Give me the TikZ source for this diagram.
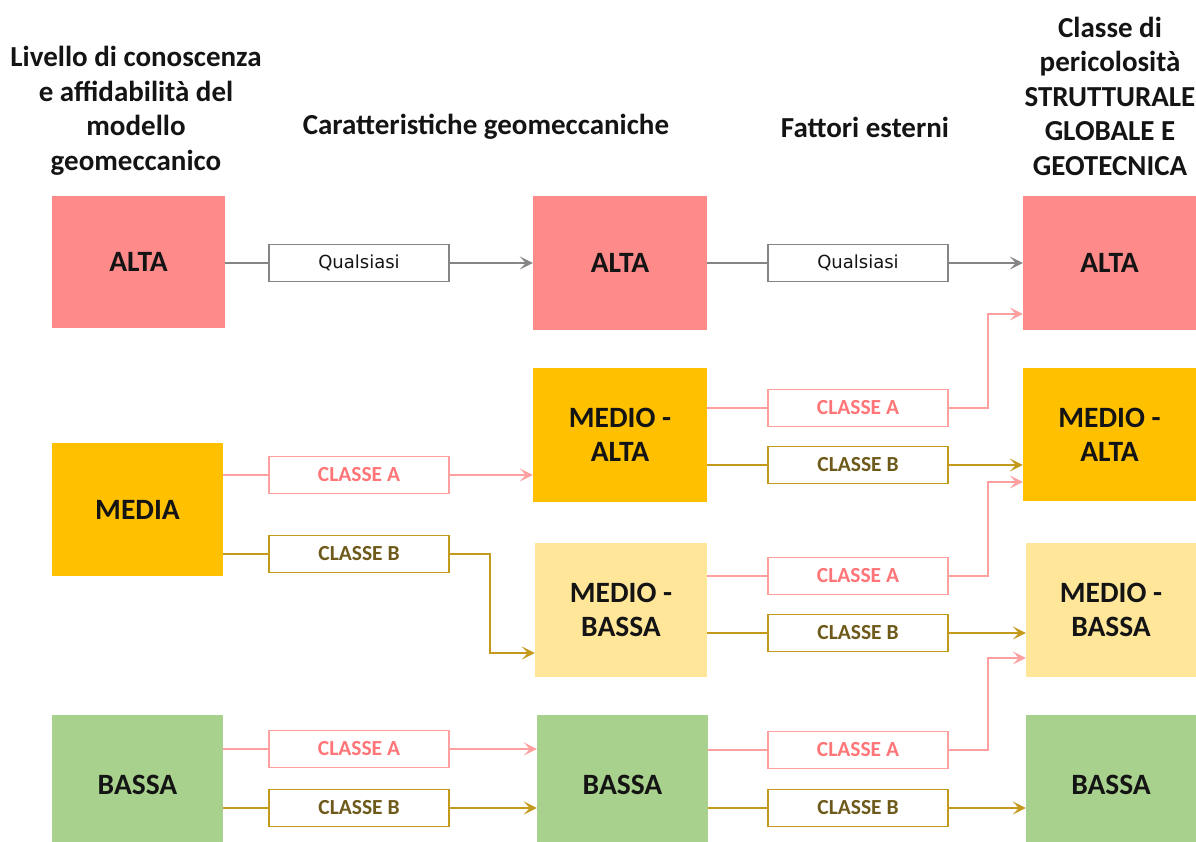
\documentclass[tikz,border=0pt]{standalone}
\usepackage{fontspec}
\setmainfont{Carlito}
\newfontfamily\dejavu{DejaVu Sans}
\usetikzlibrary{arrows.meta}
\definecolor{cAlta}{HTML}{FF8A8A}
\definecolor{cMedia}{HTML}{FFC000}
\definecolor{cMB}{HTML}{FFE699}
\definecolor{cBassa}{HTML}{A9D18E}
\definecolor{cGray}{HTML}{858585}
\definecolor{cPink}{HTML}{FFA0A0}
\definecolor{cPinkTxt}{HTML}{FF7578}
\definecolor{cGold}{HTML}{C49A1C}
\definecolor{cGoldTxt}{HTML}{6E5A1A}
\definecolor{cTxt}{HTML}{141414}
\tikzset{
  x=1pt, y=-1pt,
  heading/.style={font=\fontsize{29}{34.5}\selectfont\bfseries, text=cTxt, align=center, inner sep=0pt},
  bigbox/.style={minimum height=134pt, inner sep=0pt, align=center, text=cTxt,
     font=\fontsize{29.5}{34}\selectfont\bfseries},
  lbl/.style={draw, line width=1.6pt, fill=white, minimum width=180pt, minimum height=37pt, inner sep=0pt},
  qbox/.style={lbl, draw=cGray, text=cTxt, font=\dejavu\fontsize{18}{20}\selectfont},
  abox/.style={lbl, draw=cPink, text=cPinkTxt, font=\fontsize{21.5}{24}\selectfont\bfseries},
  bbox/.style={lbl, draw=cGold, text=cGoldTxt, font=\fontsize{21.5}{24}\selectfont\bfseries},
  arr/.style={-{Stealth[length=13pt,width=13pt,inset=6pt]}},
  gline/.style={draw=cGray, line width=2.2pt},
  pline/.style={draw=cPink, line width=2.2pt},
  oline/.style={draw=cGold, line width=2.2pt},
}
\begin{document}
\begin{tikzpicture}
\useasboundingbox (0,0) rectangle (1196,841);
% headings
\node[heading] (h1) at (136,111) {Livello di conoscenza\\e affidabilità del\\modello\\geomeccanico};
\node[heading] (h2) at (486,127) {Caratteristiche geomeccaniche};
\node[heading] (h3) at (865,127) {Fattori esterni};
\node[heading] (h4) at (1110,96) {Classe di\\pericolosità\\STRUTTURALE\\GLOBALE E\\GEOTECNICA};
% left column
\node[bigbox, fill=cAlta, minimum width=173pt, minimum height=132pt] (L1) at (138.5,262) {ALTA};
\node[bigbox, fill=cMedia, minimum width=171pt, minimum height=133pt] (L2) at (137.5,509.5) {MEDIA};
\node[bigbox, fill=cBassa, minimum width=171pt, minimum height=140pt] (L3) at (137.5,785) {BASSA};
% middle column
\node[bigbox, fill=cAlta, minimum width=174pt] (M1) at (620,263) {ALTA};
\node[bigbox, fill=cMedia, minimum width=174pt] (M2) at (620,435) {MEDIO -\\ALTA};
\node[bigbox, fill=cMB, minimum width=172pt] (M3) at (621,610) {MEDIO -\\BASSA};
\node[bigbox, fill=cBassa, minimum width=171pt, minimum height=140pt] (M4) at (622.5,785) {BASSA};
% right column
\node[bigbox, fill=cAlta, minimum width=173pt] (R1) at (1109.5,263) {ALTA};
\node[bigbox, fill=cMedia, minimum width=173pt, minimum height=133pt] (R2) at (1109.5,434.5) {MEDIO -\\ALTA};
\node[bigbox, fill=cMB, minimum width=170pt] (R3) at (1111,610) {MEDIO -\\BASSA};
\node[bigbox, fill=cBassa, minimum width=170pt, minimum height=140pt] (R4) at (1111,785) {BASSA};
% label boxes, left
\node[qbox] (q1) at (359,263) {Qualsiasi};
\node[abox] (a1) at (359,475) {CLASSE A};
\node[bbox] (b1) at (359,554) {CLASSE B};
\node[abox] (a2) at (359,749) {CLASSE A};
\node[bbox] (b2) at (359,808) {CLASSE B};
% label boxes, right
\node[qbox] (q2) at (858,263) {Qualsiasi};
\node[abox] (a3) at (858,408) {CLASSE A};
\node[bbox] (b3) at (858,465) {CLASSE B};
\node[abox] (a4) at (858,576) {CLASSE A};
\node[bbox] (b4) at (858,633) {CLASSE B};
\node[abox] (a5) at (858,750) {CLASSE A};
\node[bbox] (b5) at (858,808) {CLASSE B};
% connectors left -> middle
\draw[gline] (L1.east |- q1) -- (q1.west);
\draw[gline, arr] (q1.east) -- (M1.west |- q1);
\draw[pline] (L2.east |- a1) -- (a1.west);
\draw[pline, arr] (a1.east) -- (M2.west |- a1);
\draw[oline] (L2.east |- b1) -- (b1.west);
\draw[oline, arr] (b1.east) -- ++(40,0) |- ([yshift=-43pt]M3.west);
\draw[pline] (L3.east |- a2) -- (a2.west);
\draw[pline, arr] (a2.east) -- (M4.west |- a2);
\draw[oline] (L3.east |- b2) -- (b2.west);
\draw[oline, arr] (b2.east) -- (M4.west |- b2);
% connectors middle -> right
\draw[gline] (M1.east |- q2) -- (q2.west);
\draw[gline, arr] (q2.east) -- (R1.west |- q2);
\draw[pline] (M2.east |- a3) -- (a3.west);
\draw[pline, arr] (a3.east) -- ++(39,0) |- ([yshift=-51pt]R1.west);
\draw[oline] (M2.east |- b3) -- (b3.west);
\draw[oline, arr] (b3.east) -- (R2.west |- b3);
\draw[pline] (M3.east |- a4) -- (a4.west);
\draw[pline, arr] (a4.east) -- ++(39,0) |- ([yshift=-47.5pt]R2.west);
\draw[oline] (M3.east |- b4) -- (b4.west);
\draw[oline, arr] (b4.east) -- (R3.west |- b4);
\draw[pline] (M4.east |- a5) -- (a5.west);
\draw[pline, arr] (a5.east) -- ++(39,0) |- ([yshift=-48pt]R3.west);
\draw[oline] (M4.east |- b5) -- (b5.west);
\draw[oline, arr] (b5.east) -- (R4.west |- b5);
\end{tikzpicture}
\end{document}
